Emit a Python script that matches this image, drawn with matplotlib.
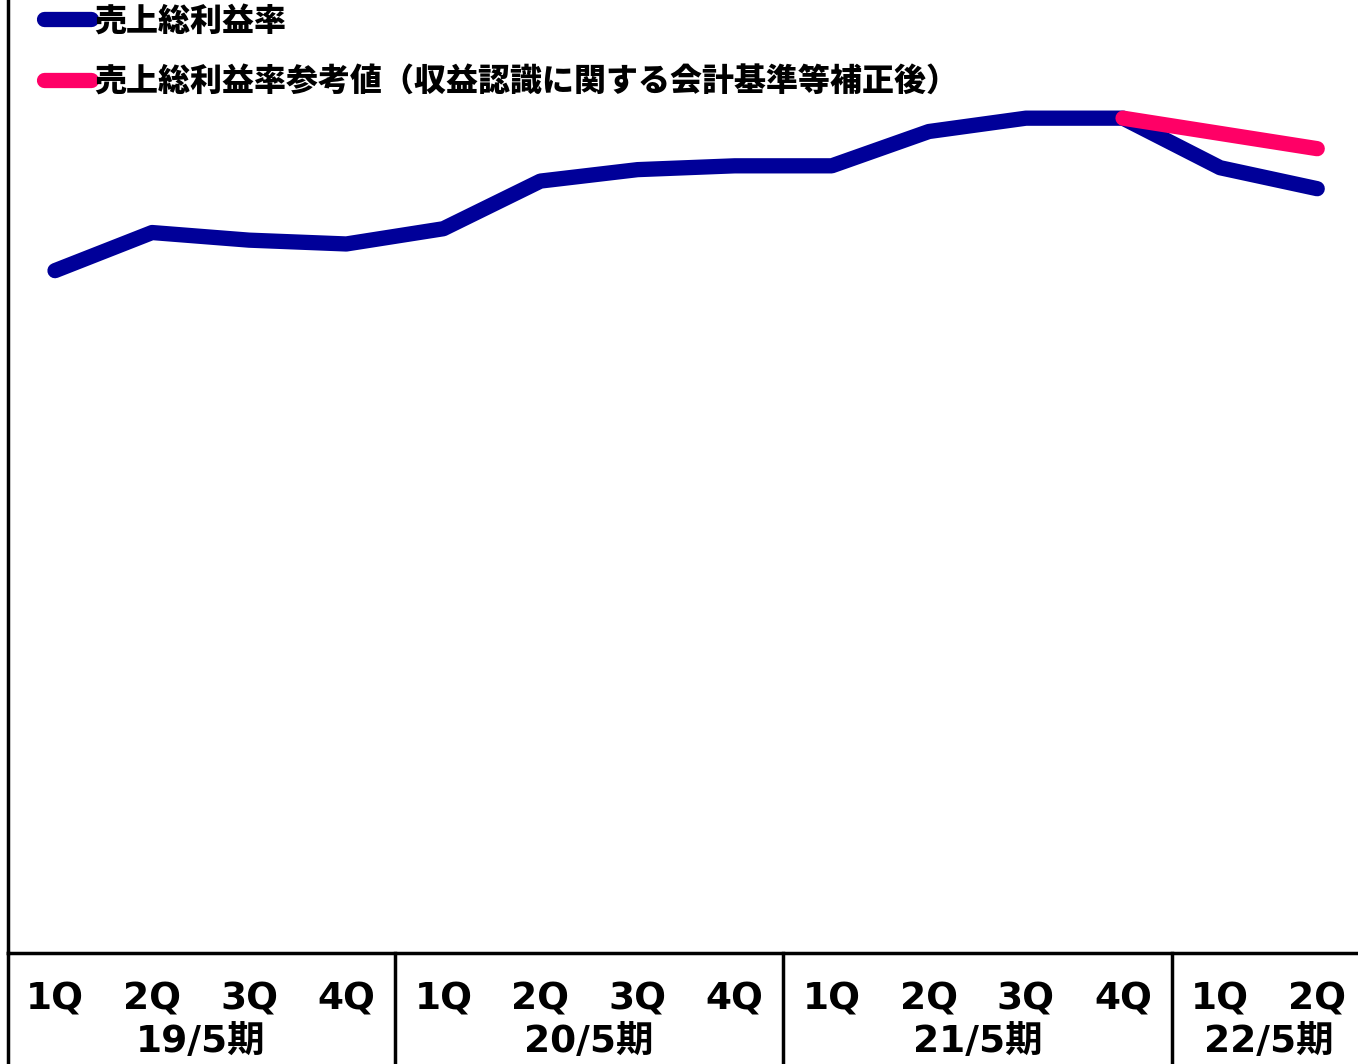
import numpy as np
import matplotlib.pyplot as plt
from matplotlib.transforms import blended_transform_factory

plt.rcParams['font.family'] = ['Noto Sans CJK JP', 'DejaVu Sans']
plt.rcParams['font.weight'] = 'heavy'

# データ
quarters = ["1Q", "2Q", "3Q", "4Q", "1Q", "2Q", "3Q", "4Q", "1Q", "2Q", "3Q", "4Q", "1Q", "2Q"]
periods = ["19/5期", "20/5期", "21/5期", "22/5期"]
period_centers = [1.5, 5.5, 9.5, 12.5]
gross_margin = [35.8, 37.8, 37.4, 37.2, 38.0, 40.5, 41.1, 41.3, 41.3, 43.1, 43.8, 43.8, 41.2, 40.1]
ref_idx = [11, 12, 13]
ref_margin = [43.8, 43.0, 42.2]

navy = "#000099"
pink = "#FF0066"

fig = plt.figure(figsize=(13.58, 10.64), dpi=100)
ax = fig.add_axes([8 / 1358, 111 / 1064, 1350 / 1358, 953 / 1064])

x = np.arange(len(quarters))
ax.plot(x, gross_margin, color=navy, lw=11, solid_capstyle='round', solid_joinstyle='round',
        label="売上総利益率", zorder=3)
ax.plot(ref_idx, ref_margin, color=pink, lw=11, solid_capstyle='round', solid_joinstyle='round',
        label="売上総利益率参考値（収益認識に関する会計基準等補正後）", zorder=4)

ax.set_xlim(-0.484, 13.42)
ax.set_ylim(0, 50)
ax.set_xticks([])
ax.set_yticks([])
ax.spines['top'].set_visible(False)
ax.spines['right'].set_visible(False)
ax.spines['left'].set_linewidth(2.5)
ax.spines['bottom'].set_linewidth(2.5)

# 軸下のラベルと区切り線
lab_font = ['DejaVu Sans', 'Noto Sans CJK JP']
tr = blended_transform_factory(ax.transData, ax.transAxes)
for i, q in enumerate(quarters):
    ax.text(i, -0.049, q, transform=tr, ha='center', va='center', fontsize=27,
            fontweight='bold', family=lab_font)
for c, p in zip(period_centers, periods):
    ax.text(c, -0.093, p, transform=tr, ha='center', va='center', fontsize=27,
            fontweight='bold', family=lab_font)
for s in [3.5, 7.5, 11.5]:
    ax.plot([s, s], [0, -0.13], transform=tr, color='black', lw=2.5, clip_on=False)
ax.plot([-0.484, -0.484], [0, -0.13], transform=tr, color='black', lw=2.5, clip_on=False)

ax.legend(loc='upper left', bbox_to_anchor=(0.005, 1.026), frameon=False,
          handlelength=1.5, handletextpad=0.1, labelspacing=0.85,
          prop={'weight': 'heavy', 'size': 23})

fig.savefig("out.png", dpi=100)
